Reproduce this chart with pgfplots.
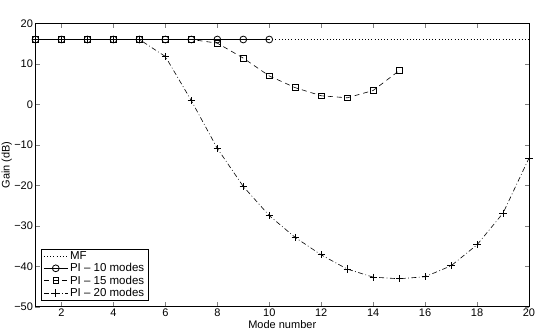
\documentclass[border=0pt]{standalone}
\usepackage{pgfplots}
\pgfplotsset{compat=1.18}
\usepackage{fontspec}
\setmainfont{Liberation Sans}
\begin{document}
\begin{tikzpicture}
\begin{axis}[
  scale only axis,
  width=493.5pt, height=283.4pt,
  xmin=1, xmax=20, ymin=-50, ymax=20,
  xtick={2,4,...,20}, ytick={-50,-40,...,20},
  yticklabels={−50,−40,−30,−20,−10,0,10,20},
  tick align=inside, tick pos=both,
  major tick length=4.5pt,
  /pgf/number format/assume math mode=true,
  tick label style={font=\fontsize{11}{12}\selectfont},
  xticklabel style={yshift=1.5pt},
  yticklabel style={xshift=1pt},
  xlabel={Mode number}, ylabel={Gain (dB)},
  label style={font=\fontsize{11}{12}\selectfont},
  xlabel style={yshift=3pt},
  ylabel style={yshift=-4.5pt},
  axis line style={line width=0.9pt},
  legend style={font=\fontsize{11.5}{12}\selectfont, draw=black, line width=0.7pt,
    at={(0.0105,0.021)}, anchor=south west, inner xsep=2.5pt, inner ysep=0.5pt, row sep=-1.5pt,
    legend cell align=left},
  legend image code/.code={\draw[mark repeat=2,mark phase=2,#1] plot coordinates {(0pt,0pt)(12pt,0pt)(24pt,0pt)};},
  legend image post style={line width=0.5pt},
]
\addplot[black, dash pattern=on 0.9pt off 2.3pt, line width=0.9pt] coordinates {
(1,16)(2,16)(3,16)(4,16)(5,16)(6,16)(7,16)(8,16)(9,16)(10,16)
(11,16)(12,16)(13,16)(14,16)(15,16)(16,16)(17,16)(18,16)(19,16)(20,16)};
\addlegendentry{MF}
\addplot[black, line width=0.6pt, mark=o, mark size=3.4pt, mark options={solid, line width=0.8pt}] coordinates {
(1,16)(2,16)(3,16)(4,16)(5,16)(6,16)(7,16)(8,16)(9,16)(10,16)};
\addlegendentry{PI -- 10 modes}
\addplot[black, line width=0.6pt, dash pattern=on 5pt off 4pt, mark=square, mark size=2.8pt, mark options={solid, line width=0.8pt}] coordinates {
(1,16)(2,16)(3,16)(4,16)(5,16)(6,16)(7,16)(8,15.1)(9,11.4)(10,7.0)
(11,4.1)(12,2.1)(13,1.6)(14,3.4)(15,8.3)};
\addlegendentry{PI -- 15 modes}
\addplot[black, line width=0.6pt, dash pattern=on 5pt off 2.5pt on 0.8pt off 2.5pt, mark=+, mark size=3.6pt, mark options={solid, line width=0.8pt}] coordinates {
(1,16)(2,16)(3,16)(4,16)(5,16)(6,11.8)(7,0.9)(8,-10.9)(9,-20.3)(10,-27.5)
(11,-32.9)(12,-37.2)(13,-40.7)(14,-42.7)(15,-43.1)(16,-42.6)(17,-39.9)(18,-34.7)(19,-26.9)(20,-13.3)};
\addlegendentry{PI -- 20 modes}
\node[anchor=base west, font=\fontsize{8.5}{10}\selectfont, inner sep=0pt] at (rel axis cs:0.004,1) [yshift=3pt] {75 Hz};
\node[anchor=base east, font=\fontsize{9.5}{10}\selectfont, inner sep=0pt] at (rel axis cs:0.9965,1) [yshift=3pt] {win--rcvr--prof};
\end{axis}
\pgfresetboundingbox
\path (-35.5pt,-28.3pt) rectangle (503.5pt,306.7pt);
\end{tikzpicture}
\end{document}
